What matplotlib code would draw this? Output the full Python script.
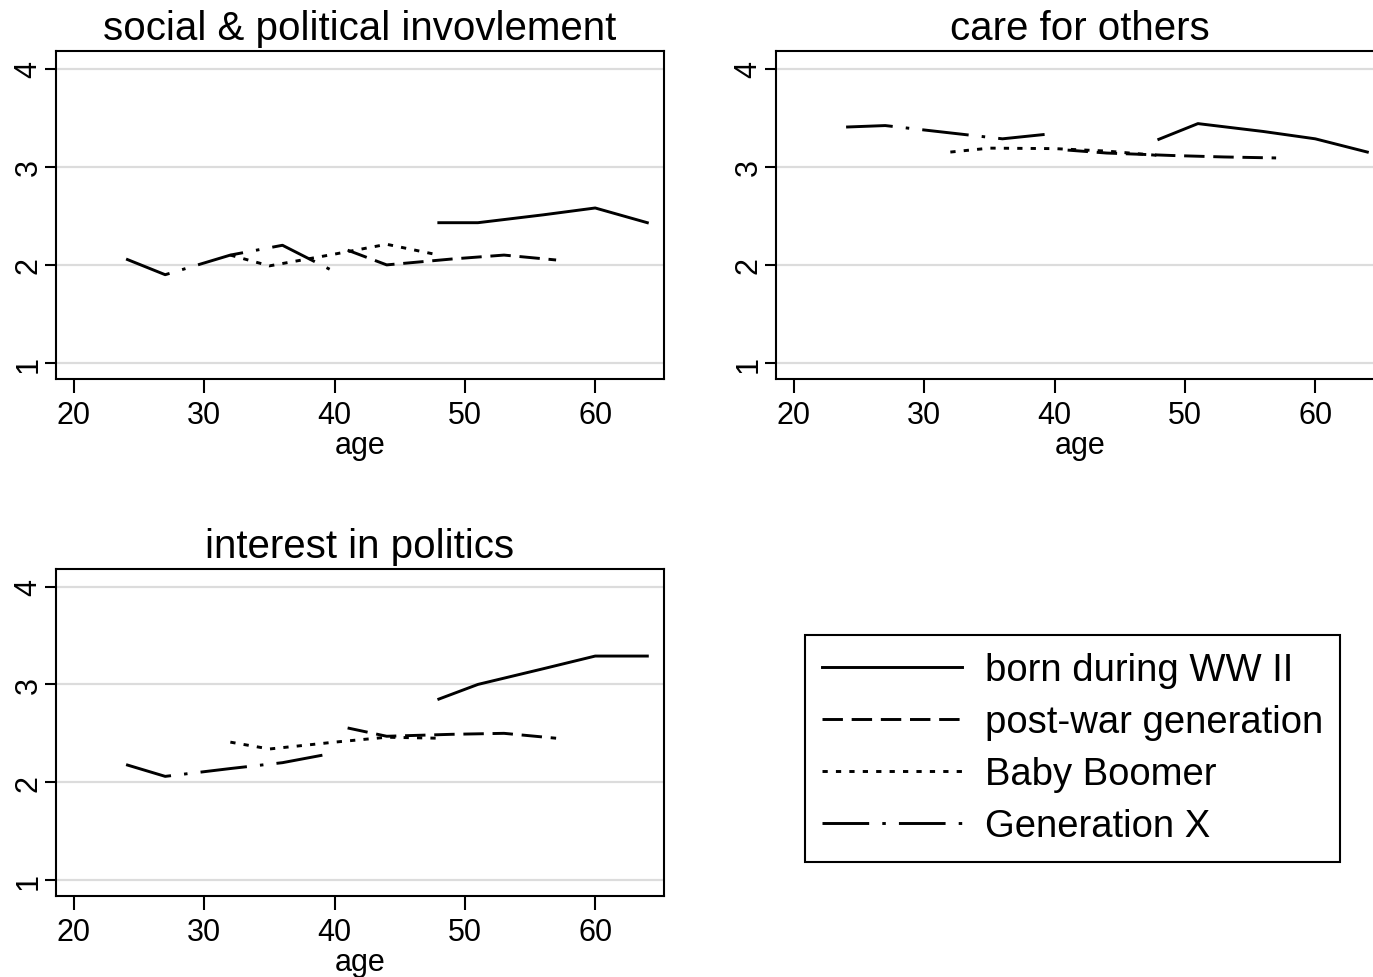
import matplotlib
matplotlib.use("Agg")
import matplotlib.pyplot as plt

plt.rcParams['font.family'] = ['Liberation Sans', 'DejaVu Sans']

# ages at each survey wave, per cohort
ages_ww2 = [48, 51, 56, 60, 64]
ages_postwar = [41, 44, 49, 53, 57]
ages_boomer = [32, 35, 40, 44, 48]
ages_genx = [24, 27, 32, 36, 40]

# social & political involvement
inv_ww2 = [2.43, 2.43, 2.51, 2.58, 2.43]
inv_postwar = [2.15, 2.00, 2.06, 2.10, 2.05]
inv_boomer = [2.10, 1.99, 2.11, 2.21, 2.10]
inv_genx = [2.06, 1.90, 2.10, 2.20, 1.93]

# care for others
care_ww2 = [3.28, 3.44, 3.36, 3.285, 3.15]
care_postwar = [3.17, 3.14, 3.115, 3.10, 3.09]
care_boomer = [3.15, 3.19, 3.185, 3.16, 3.115]
care_genx = [3.405, 3.42, 3.345, 3.285, 3.34]

# interest in politics
pol_ww2 = [2.85, 3.00, 3.16, 3.29, 3.29]
pol_postwar = [2.555, 2.47, 2.49, 2.50, 2.45]
pol_boomer = [2.41, 2.34, 2.41, 2.46, 2.45]
pol_genx = [2.18, 2.06, 2.14, 2.20, 2.30]

labels = ["born during WW II", "post-war generation", "Baby Boomer", "Generation X"]
titles = ["social & political invovlement", "care for others", "interest in politics"]
xticks = [20, 30, 40, 50, 60]
yticks = [1, 2, 3, 4]

styles = ['-', (0, (7, 3)), (0, (1.8, 2.8)), (0, (16, 4.5, 1.2, 4.5))]
W, H = 1373, 978
fig = plt.figure(figsize=(W / 100, H / 100), dpi=100)


def box(left, top, right, bottom):
    return [left / W, 1 - bottom / H, (right - left) / W, (bottom - top) / H]


panels = [
    (box(56, 52, 664, 380), titles[0], [inv_ww2, inv_postwar, inv_boomer, inv_genx]),
    (box(776, 52, 1384, 380), titles[1], [care_ww2, care_postwar, care_boomer, care_genx]),
    (box(56, 570, 664, 897), titles[2], [pol_ww2, pol_postwar, pol_boomer, pol_genx]),
]
ages = [ages_ww2, ages_postwar, ages_boomer, ages_genx]

handles = []
for rect, title, series in panels:
    ax = fig.add_axes(rect)
    for yv in yticks:
        ax.axhline(yv, color='#dcdcdc', lw=1.6, zorder=0)
    hs = []
    for a, vals, ls in zip(ages, series, styles):
        h, = ax.plot(a, vals, color='black', lw=2.1, linestyle=ls)
        hs.append(h)
    handles = hs
    ax.set_xlim(18.62, 65.28)
    ax.set_ylim(0.837, 4.18)
    ax.set_xticks(xticks)
    ax.set_yticks(yticks)
    ax.tick_params(axis='x', length=10, width=1.5, labelsize=22, pad=5)
    ax.tick_params(axis='y', length=8, width=1.5, labelsize=22, pad=1, labelrotation=90)
    for lab in ax.get_yticklabels():
        lab.set_va('center')
    for sp in ax.spines.values():
        sp.set_linewidth(1.5)
    ax.set_xlabel("age", fontsize=22, labelpad=0)
    ax.set_title(title, fontsize=29, pad=9)

fig.legend(handles, labels, loc='upper left',
           bbox_to_anchor=(805 / W, 1 - 636 / H), borderaxespad=0,
           fontsize=27.5, handlelength=3.65, handletextpad=0.6,
           borderpad=0.45, labelspacing=0.42, fancybox=False,
           edgecolor='black', framealpha=1)
fig.legends[0].get_frame().set_linewidth(1.5)

plt.savefig("out.png", dpi=100)
